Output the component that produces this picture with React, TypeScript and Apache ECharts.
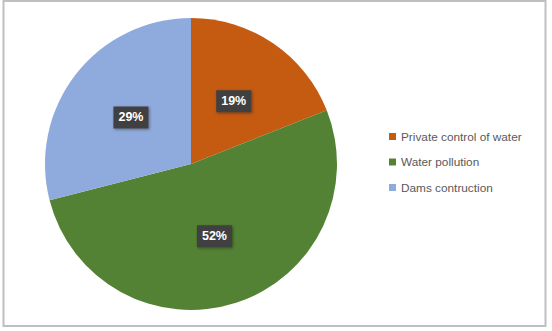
import React, { useEffect, useRef } from "react";
import * as echarts from "echarts";

const categories = ["Private control of water", "Water pollution", "Dams contruction"];
const values = [19, 52, 29];
const colors = ["#C55A11", "#548235", "#8FAADC"];

export default function App() {
  const ref = useRef<HTMLDivElement>(null);
  useEffect(() => {
    document.body.style.margin = "0";
    const chart = echarts.init(ref.current!, null, { renderer: "svg" });
    chart.setOption({
      animation: false,
      backgroundColor: "#ffffff",
      color: colors,
      graphic: [
        {
          type: "rect",
          shape: { x: 3.5, y: 1, width: 542, height: 325 },
          style: { fill: "none", stroke: "#bfbfbf", lineWidth: 2 },
          silent: true,
        },
      ],
      legend: {
        orient: "vertical",
        left: 384,
        top: 125,
        itemWidth: 7,
        itemHeight: 7,
        itemGap: 12.5,
        icon: "rect",
        textStyle: { color: "#595959", fontSize: 11.8, lineHeight: 13, fontFamily: "Liberation Sans" },
        data: categories,
      },
      series: [
        {
          type: "pie",
          center: [191, 164],
          radius: [0, 146],
          startAngle: 90,
          clockwise: true,
          label: {
            show: true,
            position: "inside",
            formatter: "{c}%",
            color: "#ffffff",
            fontWeight: "bold",
            fontSize: 12.5,
            fontFamily: "Liberation Sans",
            backgroundColor: "#404040",
            padding: [5, 5, 4, 5],
            shadowColor: "rgba(0,0,0,0.4)",
            shadowBlur: 3,
            shadowOffsetX: 1,
            shadowOffsetY: 1,
          },
          labelLine: { show: false },
          itemStyle: { borderWidth: 0 },
          data: categories.map((c, i) => ({ name: c, value: values[i] })),
        },
      ],
    });
    return () => chart.dispose();
  }, []);
  return <div ref={ref} style={{ width: 552, height: 331, position: "absolute", left: 0, top: 0 }} />;
}
